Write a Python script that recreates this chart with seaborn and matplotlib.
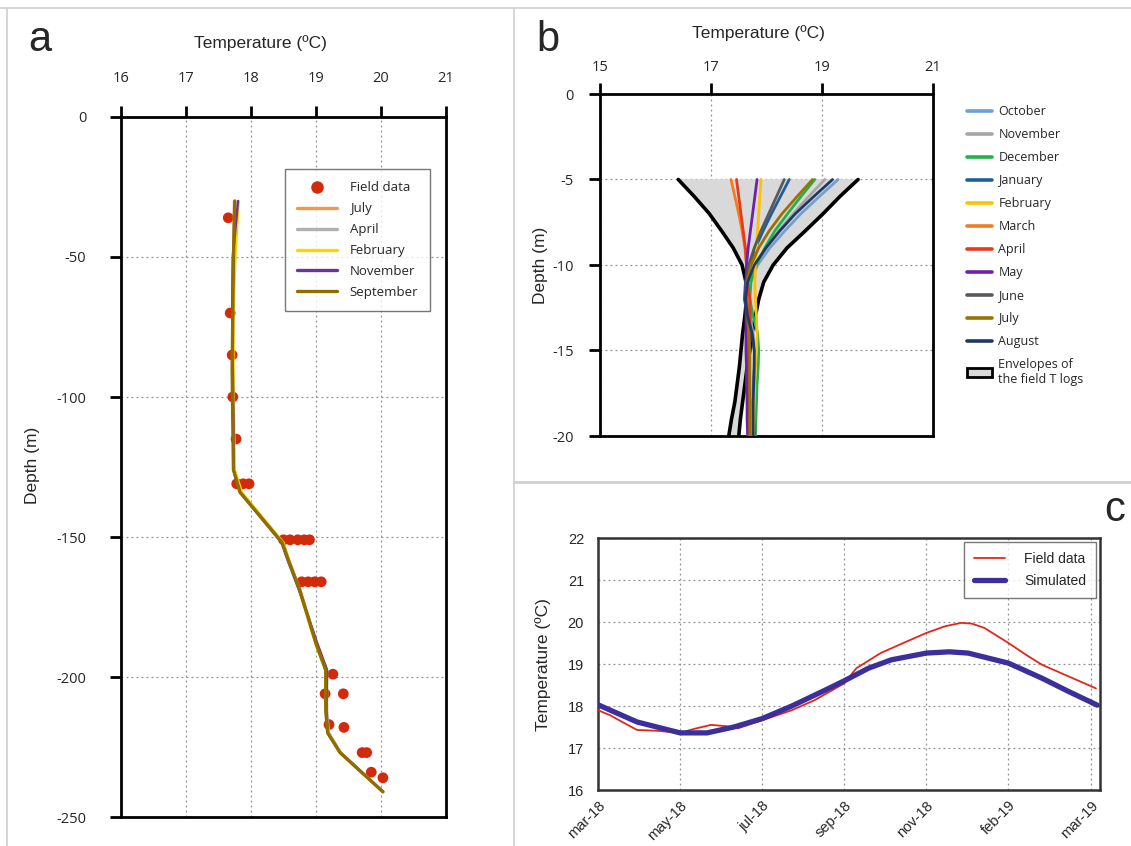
import matplotlib
matplotlib.use("Agg")
import matplotlib.pyplot as plt
import seaborn as sns
from matplotlib.lines import Line2D
from matplotlib.patches import Patch

sns.set_style("white")
plt.rcParams['font.family'] = ['Open Sans', 'DejaVu Sans']
plt.rcParams['axes.unicode_minus'] = False

W, H = 1131, 846

# ---------------- panel a data ----------------
a_field_T = [17.65, 17.68, 17.71, 17.72, 17.77,
             17.78, 17.88, 17.97,
             18.50, 18.60, 18.72, 18.82, 18.90,
             18.78, 18.88, 18.98, 19.08,
             19.26, 19.14, 19.42, 19.20, 19.43,
             19.71, 19.78, 19.85, 20.03]
a_field_depth = [-36, -70, -85, -100, -115,
                 -131, -131, -131,
                 -151, -151, -151, -151, -151,
                 -166, -166, -166, -166,
                 -199, -206, -206, -217, -218,
                 -227, -227, -234, -236]

a_depth = [-30, -50, -70, -90, -110, -126, -134, -152, -158, -169, -188,
           -197.5, -212, -220, -227, -241]
a_july = [17.74, 17.73, 17.72, 17.72, 17.73, 17.74, 17.84, 18.49, 18.58,
          18.76, 19.01, 19.16, 19.16, 19.19, 19.38, 20.03]
a_april = [17.75, 17.73, 17.72, 17.72, 17.73, 17.74, 17.84, 18.49, 18.58,
           18.75, 19.00, 19.17, 19.17, 19.20, 19.38, 20.03]
a_february = [17.81, 17.76, 17.73, 17.73, 17.74, 17.75, 17.86, 18.50, 18.58,
              18.74, 18.99, 19.14, 19.15, 19.19, 19.37, 20.03]
a_november = [17.80, 17.72, 17.71, 17.72, 17.73, 17.73, 17.83, 18.47, 18.56,
              18.74, 19.02, 19.17, 19.16, 19.18, 19.37, 20.03]
a_september = [17.75, 17.73, 17.72, 17.71, 17.72, 17.73, 17.83, 18.48, 18.57,
               18.75, 19.00, 19.15, 19.15, 19.18, 19.37, 20.03]

a_names = ["July", "April", "February", "November", "September"]
a_colors = ["#f79646", "#b0b0b0", "#ffd200", "#7030a0", "#8f6d00"]

# ---------------- panel b data ----------------
b_depth = [-5, -6, -7, -8, -9, -10, -11, -12, -13, -14, -15, -16, -17, -18, -19, -20]
env_min = [16.41, 16.70, 16.97, 17.19, 17.40, 17.56, 17.63, 17.64, 17.61, 17.57,
           17.54, 17.51, 17.47, 17.43, 17.37, 17.32]
env_max = [19.65, 19.32, 19.02, 18.70, 18.37, 18.12, 17.95, 17.86, 17.80, 17.74,
           17.70, 17.65, 17.61, 17.57, 17.53, 17.50]

b_october = [19.29, 18.95, 18.62, 18.33, 18.06, 17.84, 17.70, 17.66, 17.70, 17.76,
             17.79, 17.79, 17.78, 17.78, 17.78, 17.79]
b_november = [19.05, 18.76, 18.48, 18.22, 18.00, 17.82, 17.70, 17.66, 17.70, 17.75,
              17.78, 17.77, 17.76, 17.75, 17.75, 17.75]
b_december = [18.87, 18.62, 18.38, 18.15, 17.97, 17.82, 17.72, 17.70, 17.76, 17.84,
              17.86, 17.85, 17.83, 17.82, 17.81, 17.80]
b_january = [18.41, 18.25, 18.09, 17.94, 17.80, 17.70, 17.62, 17.60, 17.66, 17.74,
             17.78, 17.78, 17.77, 17.77, 17.77, 17.78]
b_february = [17.90, 17.88, 17.86, 17.84, 17.82, 17.80, 17.79, 17.80, 17.82, 17.83,
              17.82, 17.80, 17.79, 17.78, 17.77, 17.76]
b_march = [17.36, 17.43, 17.50, 17.56, 17.61, 17.64, 17.66, 17.70, 17.70, 17.68,
           17.66, 17.66, 17.67, 17.67, 17.68, 17.68]
b_april = [17.46, 17.50, 17.54, 17.58, 17.62, 17.64, 17.66, 17.70, 17.71, 17.69,
           17.67, 17.67, 17.67, 17.68, 17.68, 17.69]
b_may = [17.83, 17.79, 17.75, 17.71, 17.67, 17.64, 17.63, 17.63, 17.63, 17.63,
         17.63, 17.64, 17.64, 17.65, 17.65, 17.66]
b_june = [18.32, 18.18, 18.04, 17.90, 17.78, 17.68, 17.64, 17.64, 17.66, 17.68,
          17.70, 17.70, 17.70, 17.70, 17.70, 17.70]
b_july = [18.83, 18.55, 18.28, 18.05, 17.86, 17.72, 17.65, 17.64, 17.66, 17.68,
          17.70, 17.70, 17.70, 17.70, 17.70, 17.70]
b_august = [19.19, 18.85, 18.52, 18.24, 17.99, 17.78, 17.66, 17.62, 17.66, 17.74,
            17.78, 17.78, 17.77, 17.76, 17.76, 17.76]

b_names = ["October", "November", "December", "January", "February", "March",
           "April", "May", "June", "July", "August"]
b_colors = ["#6fa0d4", "#a6a6a6", "#22b14c", "#1f5f99", "#ffc000", "#f07d24",
            "#e8391a", "#7020a8", "#595959", "#9a7200", "#203864"]

# ---------------- panel c data ----------------
c_sim_day = [0, 29, 61, 81, 101, 122, 144, 167, 183, 201, 218, 244, 261, 275,
             305, 330, 350, 371]
c_sim_T = [18.03, 17.62, 17.36, 17.36, 17.50, 17.70, 18.00, 18.35, 18.60, 18.90,
           19.10, 19.26, 19.29, 19.26, 19.02, 18.66, 18.34, 18.02]
c_field_day = [0, 9, 18, 29, 44, 61, 72, 84, 95, 104, 122, 144, 161, 183, 192, 210,
               224, 244, 258, 270, 278, 287, 305, 318, 330, 350, 370]
c_field_T = [17.90, 17.78, 17.62, 17.43, 17.41, 17.36, 17.46, 17.55, 17.52, 17.47,
             17.66, 17.90, 18.14, 18.54, 18.90, 19.26, 19.46, 19.74, 19.90, 19.98,
             19.96, 19.86, 19.50, 19.22, 18.98, 18.70, 18.42]
c_tick_days = [0, 61, 122, 183, 244, 305, 366]
c_tick_labels = ["mar-18", "may-18", "jul-18", "sep-18", "nov-18", "feb-19", "mar-19"]


def px_axes(left, top, right, bottom):
    return fig.add_axes([left / W, 1 - bottom / H, (right - left) / W, (bottom - top) / H])


def style_profile(ax, pad_x, pad_y):
    for s in ax.spines.values():
        s.set_visible(True)
        s.set_color("black")
        s.set_linewidth(2)
    ax.xaxis.tick_top()
    ax.tick_params(axis="both", which="major", direction="out", length=8, width=2,
                   color="black", labelsize=10.5)
    ax.tick_params(axis="x", pad=pad_x, top=True, bottom=False)
    ax.tick_params(axis="y", pad=pad_y, left=True)
    ax.grid(True, linestyle=(0, (1.5, 2.5)), color="#909090", linewidth=0.9)
    ax.set_xlabel("")
    ax.set_ylabel("")


fig = plt.figure(figsize=(W / 100, H / 100), dpi=100)

# ---------------- panel a ----------------
ax_a = px_axes(121, 117, 446, 817)
sns.scatterplot(x=a_field_T, y=a_field_depth, ax=ax_a, color="#d42a0c", marker="o",
                s=60, edgecolor="none", zorder=2, legend=False)
a_series = [a_july, a_april, a_february, a_november, a_september]
for name, col, vals in zip(a_names, a_colors, a_series):
    lw = 2.4 if name == "September" else 1.8
    sns.lineplot(x=vals, y=a_depth, ax=ax_a, sort=False, estimator=None,
                 color=col, lw=lw, zorder=3, legend=False)
ax_a.set_xlim(16, 21)
ax_a.set_ylim(-250, 0)
ax_a.set_xticks([16, 17, 18, 19, 20, 21])
ax_a.set_yticks([0, -50, -100, -150, -200, -250])
style_profile(ax_a, 14, 17)

a_handles = [Line2D([], [], color="#d42a0c", marker="o", ls="none", markersize=8)]
a_handles += [Line2D([], [], color=c, lw=2.4) for c in a_colors]
leg_a = ax_a.legend(a_handles, ["Field data"] + a_names, loc="upper left",
                    bbox_to_anchor=(0.505, 0.925), borderaxespad=0, fontsize=9.5,
                    frameon=True, fancybox=False, edgecolor="#555555",
                    handlelength=3.0, labelspacing=0.6, borderpad=0.9,
                    handletextpad=1.0)
leg_a.get_frame().set_linewidth(1.0)

fig.text(40 / W, 1 - 40 / H, "a", fontsize=30, ha="center", va="center",
         family="Liberation Sans")
fig.text(260 / W, 1 - 43 / H, "Temperature (ºC)", fontsize=12.5, ha="center",
         va="center", family="Liberation Sans")
fig.text(32 / W, 1 - 465 / H, "Depth (m)", fontsize=12.5, ha="center", va="center",
         rotation=90, family="Liberation Sans")

# ---------------- panel b ----------------
ax_b = px_axes(600, 94, 933, 436)
ax_b.fill_betweenx(b_depth, env_min, env_max, color="#d9d9d9", zorder=1)
sns.lineplot(x=env_min, y=b_depth, ax=ax_b, sort=False, estimator=None,
             color="black", lw=2.6, zorder=2, legend=False)
sns.lineplot(x=env_max, y=b_depth, ax=ax_b, sort=False, estimator=None,
             color="black", lw=2.6, zorder=2, legend=False)
b_series = [b_october, b_november, b_december, b_january, b_february, b_march,
            b_april, b_may, b_june, b_july, b_august]
for name, col, vals in zip(b_names, b_colors, b_series):
    sns.lineplot(x=vals, y=b_depth, ax=ax_b, sort=False, estimator=None,
                 color=col, lw=2.0, zorder=3, legend=False)
ax_b.set_xlim(15, 21)
ax_b.set_ylim(-20, 0)
ax_b.set_xticks([15, 17, 19, 21])
ax_b.set_yticks([0, -5, -10, -15, -20])
style_profile(ax_b, 6, 11)

b_handles = [Line2D([], [], color=c, lw=2.6) for c in b_colors]
b_handles.append(Patch(facecolor="#d9d9d9", edgecolor="black", linewidth=2))
fig.legend(b_handles, b_names + ["Envelopes of\nthe field T logs"], loc="upper left",
           bbox_to_anchor=(962 / W, 1 - 100 / H), frameon=False, fontsize=9,
           handlelength=2.0, labelspacing=0.8, handletextpad=0.5, borderaxespad=0)

fig.text(548 / W, 1 - 40 / H, "b", fontsize=30, ha="center", va="center",
         family="Liberation Sans")
fig.text(758 / W, 1 - 33 / H, "Temperature (ºC)", fontsize=12.5, ha="center",
         va="center", family="Liberation Sans")
fig.text(541 / W, 1 - 265 / H, "Depth (m)", fontsize=12.5, ha="center", va="center",
         rotation=90, family="Liberation Sans")

# ---------------- panel c ----------------
ax_c = px_axes(598, 538, 1100, 790)
sns.lineplot(x=c_field_day, y=c_field_T, ax=ax_c, sort=False, estimator=None,
             color="#e3261c", lw=1.3, zorder=3, label="Field data")
sns.lineplot(x=c_sim_day, y=c_sim_T, ax=ax_c, sort=False, estimator=None,
             color="#3b2f9c", lw=3.8, zorder=4, label="Simulated")
ax_c.set_xlim(0, 373)
ax_c.set_ylim(16, 22)
ax_c.set_xticks(c_tick_days)
ax_c.set_xticklabels(c_tick_labels, rotation=45, ha="right", rotation_mode="anchor",
                     family="Liberation Sans")
ax_c.set_yticks([16, 17, 18, 19, 20, 21, 22])
for lab in ax_c.get_yticklabels():
    lab.set_family("Liberation Sans")
ax_c.tick_params(axis="both", length=0, labelsize=10.5)
ax_c.tick_params(axis="y", pad=10)
ax_c.tick_params(axis="x", pad=6)
for s in ax_c.spines.values():
    s.set_visible(True)
    s.set_color("#333333")
    s.set_linewidth(1.8)
ax_c.grid(True, linestyle=(0, (1.5, 2.5)), color="#909090", linewidth=0.9)
ax_c.set_xlabel("")
ax_c.set_ylabel("")
leg_c = ax_c.legend(loc="upper right", borderaxespad=0.3,
                    frameon=True, fancybox=False, edgecolor="#555555",
                    handlelength=2.2, labelspacing=0.6, borderpad=0.7,
                    handletextpad=1.4, prop={"family": "Liberation Sans", "size": 10})
leg_c.get_frame().set_linewidth(1.0)

fig.text(1115 / W, 1 - 510 / H, "c", fontsize=30, ha="center", va="center",
         family="Liberation Sans")
fig.text(543 / W, 1 - 665 / H, "Temperature (ºC)", fontsize=12.5, ha="center",
         va="center", rotation=90, family="Liberation Sans")

# panel separator lines
sep = dict(color="#d0d0d0", lw=1.2, transform=fig.transFigure)
fig.add_artist(Line2D([0, 1], [1 - 8 / H, 1 - 8 / H], **sep))
fig.add_artist(Line2D([7 / W, 7 / W], [0, 1 - 8 / H], **sep))
fig.add_artist(Line2D([514 / W, 514 / W], [0, 1 - 8 / H], **sep))
fig.add_artist(Line2D([514 / W, 1], [1 - 482 / H, 1 - 482 / H], color="#d0d0d0",
                      lw=2.0, transform=fig.transFigure))

fig.savefig("out.png", dpi=100)
